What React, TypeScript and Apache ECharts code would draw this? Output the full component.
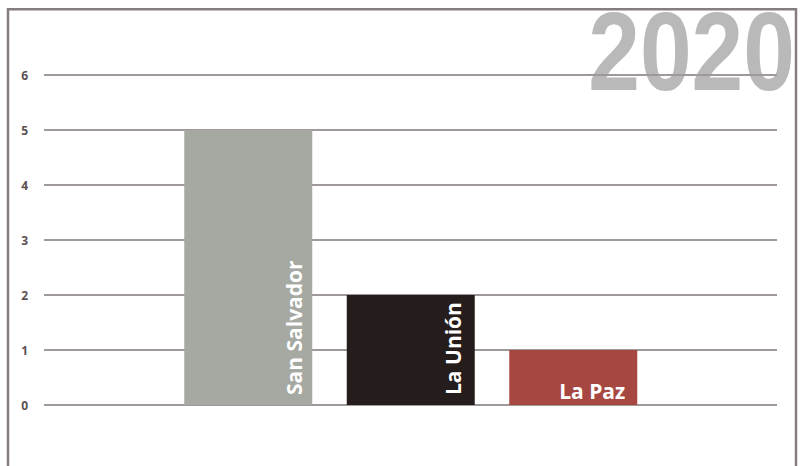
import React, { useEffect, useRef } from 'react';
import * as echarts from 'echarts';

const categories = ['San Salvador', 'La Unión', 'La Paz'];
const values = [5, 2, 1];
const barColors = ['#a6a8a2', '#251d1b', '#a74741'];
const yMin = 0;
const yMax = 6;
const yStep = 1;
const yearLabel = '2020';

export default function App() {
  const ref = useRef<HTMLDivElement>(null);
  useEffect(() => {
    if (!ref.current) return;
    const chart = echarts.init(ref.current, undefined, { renderer: 'svg' });
    const labelFont = { color: '#ffffff', fontFamily: '"Open Sans", sans-serif', fontWeight: 'bold' as const, fontSize: 21 };
    const data = values.map((v, i) => ({
      value: v,
      itemStyle: { color: barColors[i] },
      label:
        i < 2
          ? { ...labelFont, rotate: 90, align: 'left', verticalAlign: 'bottom', position: ['100%', '100%'], offset: [10, i === 0 ? -8 : -11] }
          : { ...labelFont, rotate: 0, align: 'right', verticalAlign: 'bottom', position: ['100%', '100%'], offset: [-12, -4] },
    }));
    chart.setOption({
      animation: false,
      backgroundColor: '#ffffff',
      grid: [
        { left: 44, right: 25, top: 75, height: 330 },
        { left: 167, width: 487.5, top: 75, height: 330 },
      ],
      xAxis: [
        { type: 'value', gridIndex: 0, show: false, min: 0, max: 1 },
        { type: 'category', gridIndex: 1, data: categories, show: false },
      ],
      yAxis: [
        {
          type: 'value', gridIndex: 0, min: yMin, max: yMax, interval: yStep,
          axisLine: { show: false }, axisTick: { show: false },
          axisLabel: { margin: 16, color: '#5b5052', fontFamily: '"Open Sans", sans-serif', fontWeight: 'bold', fontSize: 12 },
          splitLine: { lineStyle: { color: '#9f999a', width: 2 } },
        },
        { type: 'value', gridIndex: 1, min: yMin, max: yMax, show: false },
      ],
      graphic: [
        {
          type: 'text', z: -10, x: 795, y: 51, scaleX: 0.83,
          style: {
            text: yearLabel, fill: '#b9b9b9', fontFamily: '"Liberation Sans", Arial, sans-serif',
            fontWeight: 'bold', fontSize: 112, lineHeight: 82, align: 'right', verticalAlign: 'middle',
          },
        },
        {
          type: 'polyline', z: 100,
          shape: { points: [[8, 480], [8, 9.3], [796, 9.3], [796, 480]] },
          style: { stroke: '#857d7f', lineWidth: 2.5, fill: 'none' },
        },
      ],
      series: [
        {
          type: 'bar', xAxisIndex: 1, yAxisIndex: 1, barWidth: 128,
          label: { show: true, formatter: '{b}' },
          data,
        },
      ],
    });
    return () => chart.dispose();
  }, []);
  return <div ref={ref} style={{ position: 'absolute', left: 0, top: 0, width: 802, height: 466 }} />;
}
